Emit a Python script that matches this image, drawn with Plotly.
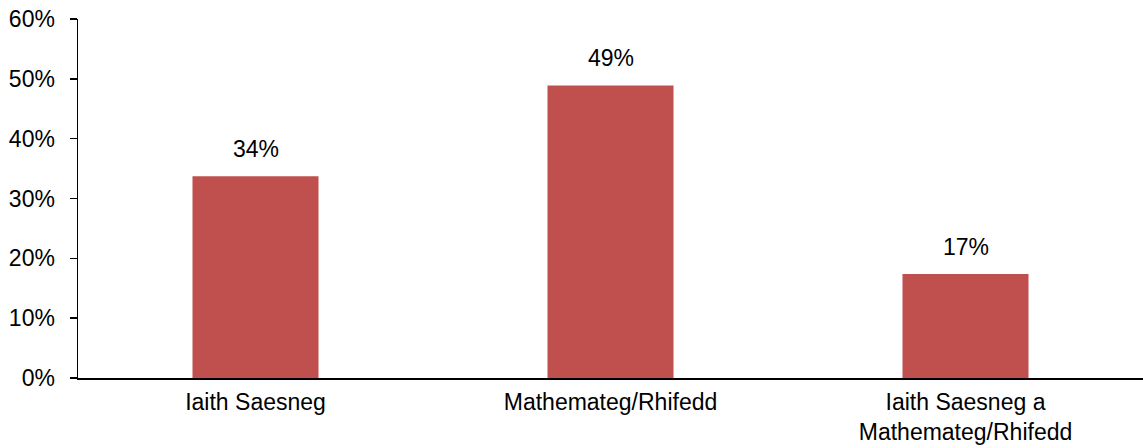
import plotly.graph_objects as go

categories = ["Iaith Saesneg", "Mathemateg/Rhifedd", "Iaith Saesneg a<br>Mathemateg/Rhifedd"]
values = [33.7, 48.9, 17.4]
labels = ["34%", "49%", "17%"]
y_ticks = [0, 10, 20, 30, 40, 50, 60]
y_tick_labels = ["0%", "10%", "20%", "30%", "40%", "50%", "60%"]

FONT = "Liberation Sans, Arial, sans-serif"
FS = 23

fig = go.Figure()
fig.add_trace(go.Bar(
    x=categories, y=values,
    marker=dict(color="#C0504D", line=dict(width=0)),
    width=0.355,
    hoverinfo="skip",
))

for c, v, t in zip(categories, values, labels):
    fig.add_annotation(x=c, y=v, text=t, showarrow=False, yanchor="bottom",
                       yshift=12, font=dict(family=FONT, size=FS, color="#000000"))

fig.update_layout(
    width=1143, height=448,
    margin=dict(l=78, r=0, t=19, b=70),
    paper_bgcolor="white", plot_bgcolor="white",
    showlegend=False,
    font=dict(family=FONT, size=FS, color="#000000"),
)
fig.update_xaxes(
    showline=True, linecolor="#000000", linewidth=1.5,
    ticks="", showgrid=False, tickfont=dict(size=FS),
    automargin=False, ticklabelstandoff=3,
)
fig.update_yaxes(
    range=[0, 60], tickvals=y_ticks, ticktext=y_tick_labels,
    showline=True, linecolor="#000000", linewidth=1.5,
    ticks="outside", ticklen=7, tickcolor="#000000", tickwidth=1.5,
    showgrid=False, zeroline=False, tickfont=dict(size=FS),
    ticklabelstandoff=10, automargin=False,
)

fig.write_html(
    "out.html",
    config={"displayModeBar": False, "staticPlot": True},
    post_script="document.body.style.margin='0';document.body.style.padding='0';document.body.style.overflow='hidden';",
)
